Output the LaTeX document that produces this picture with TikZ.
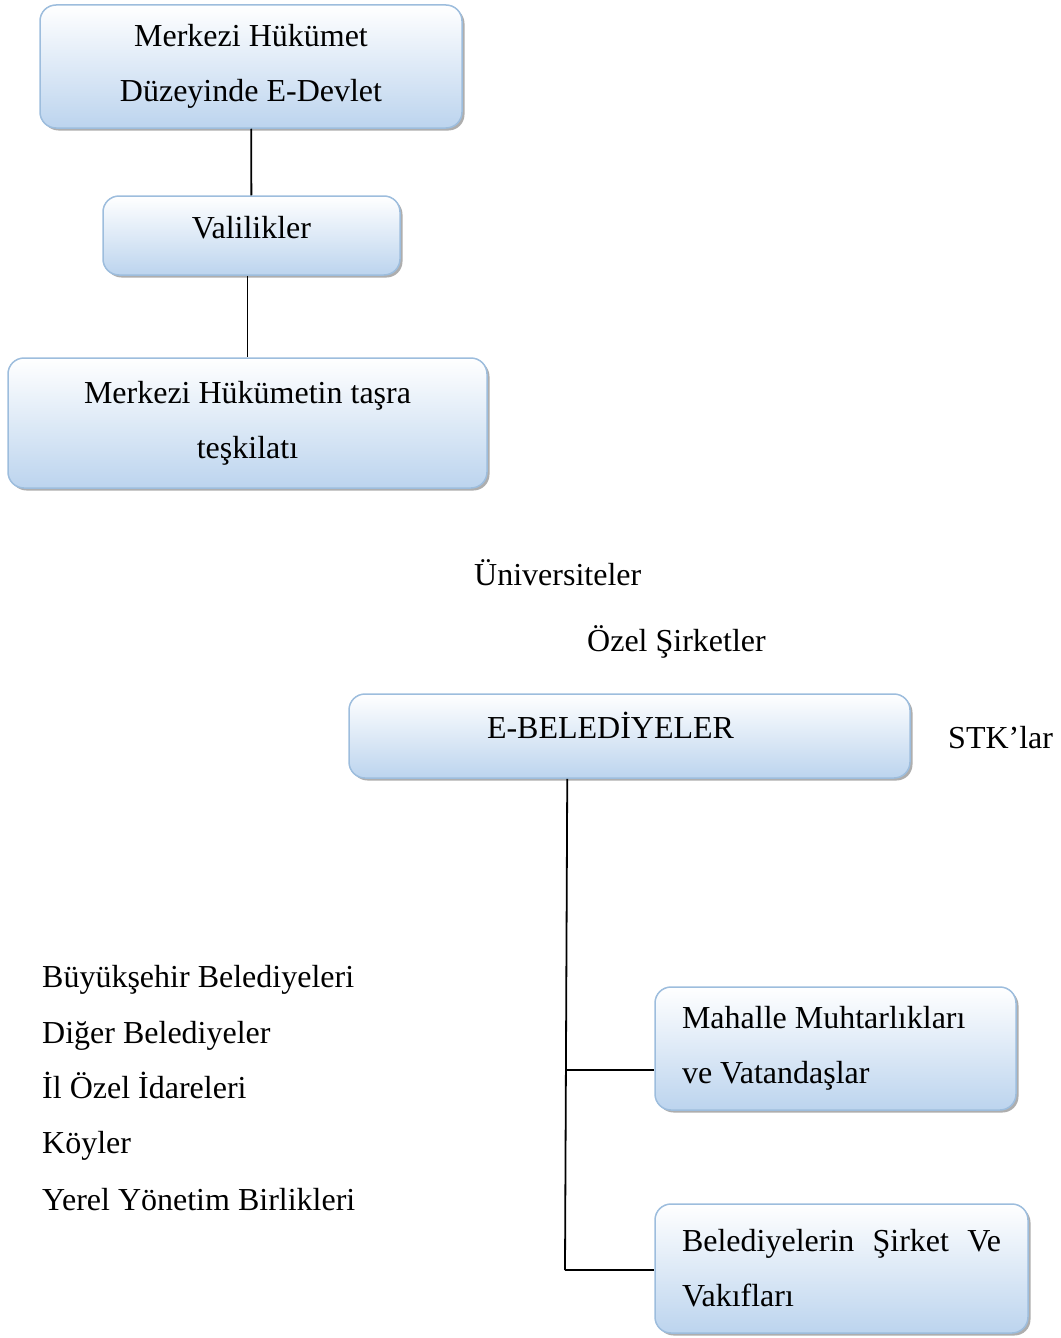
\documentclass[tikz,border=0pt]{standalone}
\usepackage{fontspec}
\setmainfont{Liberation Serif}
\usetikzlibrary{calc,shadows}
\definecolor{kutukenar}{HTML}{9DBDDD}
\definecolor{kutumavi}{HTML}{BCD4EE}
\tikzset{
	kutu/.style={draw=kutukenar, line width=1.5pt, rounded corners=16pt,
		top color=white, bottom color=kutumavi, inner sep=0pt,
		drop shadow={shadow xshift=2.5pt, shadow yshift=-2.5pt, fill=black!45, opacity=0.7},
		font=\fontsize{32}{55}\selectfont},
	yazi/.style={anchor=base west, inner sep=0pt, font=\fontsize{32}{55}\selectfont},
	hat/.style={line width=1.8pt, color=black}
}

\begin{document}
\begin{tikzpicture}[x=1pt, y=-1pt]
			%%%%% START %%%%%
			\useasboundingbox (0, 0) rectangle (1060, 1338);
			
			\node[kutu, minimum width=422pt, minimum height=123pt, align=center] (merkez) at (251, 66.5) {Merkezi Hükümet\\Düzeyinde E-Devlet};
			\node[kutu, minimum width=297pt, minimum height=79pt, text depth=16pt] (valilik) at (251.5, 235.5) {Valilikler};
			\node[kutu, minimum width=479pt, minimum height=130pt, align=center] (tasra) at (247.5, 423) {Merkezi Hükümetin taşra\\teşkilatı};
			
			\draw[hat] (merkez) -- (valilik);
			\draw[hat] (valilik.south -| tasra.north) -- (tasra.north);
			
			\node[yazi] (univ) at (474, 585.5) {Üniversiteler};
			\node[yazi] (ozel) at (587, 651.5) {Özel Şirketler};
			\node[yazi] (stk) at (948, 748.5) {STK’lar};
			
			\node[kutu, minimum width=561pt, minimum height=84pt, text width=285pt, align=flush left, text depth=22pt] (ebel) at (629.5, 736) {E-BELEDİYELER};
			
			\node[kutu, minimum width=361pt, minimum height=123pt, align=flush left, text width=307pt] (mahalle) at (835.5, 1048.5) {Mahalle Muhtarlıkları\\ve Vatandaşlar};
			\node[kutu, minimum width=373pt, minimum height=129pt, align=flush left, text width=319pt] (sirket) at (841.5, 1268.5) {\hbox to 319pt{Belediyelerin\hfil Şirket\hfil Ve}\\Vakıfları};
			
			\coordinate (kol1) at (567, 1070);
			\coordinate (kol2) at (565, 1270);
			\draw[hat] ($(ebel.south west)+(219, 0)$) -- (kol2);
			\draw[hat] (kol1) -- (kol1 -| mahalle.west);
			\draw[hat] (kol2) -- (kol2 -| sirket.west);
			
			\node[yazi] (buyuk) at (42, 987.5) {Büyükşehir Belediyeleri};
			\node[yazi] (diger) at (42, 1043.5) {Diğer Belediyeler};
			\node[yazi] (ilozel) at (42, 1098.5) {İl Özel İdareleri};
			\node[yazi] (koy) at (42, 1153.5) {Köyler};
			\node[yazi] (birlik) at (42, 1210.5) {Yerel Yönetim Birlikleri};
			%%%%% END %%%%%
		\end{tikzpicture}
\end{document}
